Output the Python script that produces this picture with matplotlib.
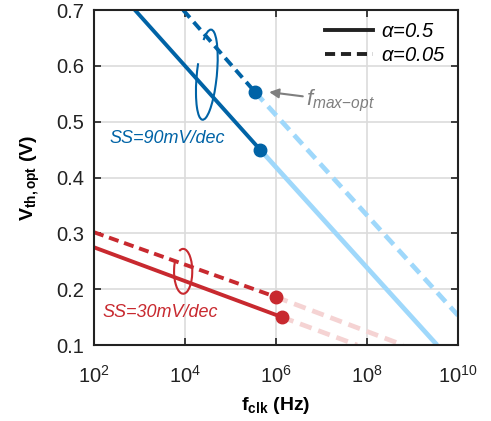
import matplotlib
matplotlib.use("Agg")
import matplotlib.pyplot as plt
from matplotlib.patches import Arc
from matplotlib.lines import Line2D

# f_clk endpoints (Hz) and V_th,opt (V) of each segment
ss90_solid_f = [10**2.90, 10**5.65]
ss90_solid_v = [0.70, 0.45]
ss90_solid_ext_f = [10**5.65, 10**9.54]
ss90_solid_ext_v = [0.45, 0.10]
ss90_dash_f = [10**3.96, 10**5.54]
ss90_dash_v = [0.70, 0.553]
ss90_dash_ext_f = [10**5.54, 10**10.0]
ss90_dash_ext_v = [0.553, 0.153]

ss30_solid_f = [10**2.0, 10**6.13]
ss30_solid_v = [0.275, 0.150]
ss30_solid_ext_f = [10**6.13, 10**7.78]
ss30_solid_ext_v = [0.150, 0.100]
ss30_dash_f = [10**2.0, 10**6.0]
ss30_dash_v = [0.302, 0.186]
ss30_dash_ext_f = [10**6.0, 10**8.79]
ss30_dash_ext_v = [0.186, 0.100]

xticks = [1e2, 1e4, 1e6, 1e8, 1e10]
yticks = [0.1, 0.2, 0.3, 0.4, 0.5, 0.6, 0.7]

blue = "#0063A6"
light_blue = "#9FD8FB"
red = "#C8292F"
light_red = "#F5D3D3"

plt.rcParams["font.family"] = ["Liberation Sans", "DejaVu Sans"]
plt.rcParams["mathtext.fontset"] = "custom"
plt.rcParams["mathtext.rm"] = "Liberation Sans"
plt.rcParams["mathtext.it"] = "Liberation Sans:italic"
plt.rcParams["mathtext.bf"] = "Liberation Sans:bold"

fig = plt.figure(figsize=(4.91, 4.21), dpi=100)
ax = fig.add_axes([0.1914, 0.1805, 0.7414, 0.7957])

dash = (0, (2.6, 1.5))
lw = 2.8
lw_light = 3.4

# light extensions first
ax.plot(ss90_solid_ext_f, ss90_solid_ext_v, color=light_blue, lw=lw_light, solid_capstyle="butt")
ax.plot(ss90_dash_ext_f, ss90_dash_ext_v, color=light_blue, lw=lw_light, linestyle=dash)
ax.plot(ss30_solid_ext_f, ss30_solid_ext_v, color=light_red, lw=lw_light, linestyle=dash)
ax.plot(ss30_dash_ext_f, ss30_dash_ext_v, color=light_red, lw=lw_light, linestyle=dash)

# main segments
ax.plot(ss90_solid_f, ss90_solid_v, color=blue, lw=lw)
ax.plot(ss90_dash_f, ss90_dash_v, color=blue, lw=lw, linestyle=dash)
ax.plot(ss30_solid_f, ss30_solid_v, color=red, lw=lw)
ax.plot(ss30_dash_f, ss30_dash_v, color=red, lw=lw, linestyle=dash)

# f_max-opt markers
ax.plot([ss90_solid_f[-1], ss90_dash_f[-1]], [ss90_solid_v[-1], ss90_dash_v[-1]],
        "o", color=blue, ms=9, zorder=5)
ax.plot([ss30_solid_f[-1], ss30_dash_f[-1]], [ss30_solid_v[-1], ss30_dash_v[-1]],
        "o", color=red, ms=9, zorder=5)

# ellipses grouping alpha pairs
ax.add_patch(Arc((0.310, 0.807), 0.055, 0.27, angle=-5, theta1=130, theta2=460,
                 transform=ax.transAxes, color=blue, lw=1.5))
ax.add_patch(Arc((0.245, 0.220), 0.05, 0.134, angle=0, theta1=130, theta2=460,
                 transform=ax.transAxes, color=red, lw=1.5))

ax.text(0.043, 0.617, "SS=90mV/dec", transform=ax.transAxes, color=blue,
        fontsize=13, style="italic", va="center")
ax.text(0.023, 0.098, "SS=30mV/dec", transform=ax.transAxes, color=red,
        fontsize=13, style="italic", va="center")

ax.annotate(r"$f_{max{-}opt}$", xy=(10**5.85, 0.553), xytext=(10**6.65, 0.537),
            color="#7F7F7F", fontsize=16, va="center",
            arrowprops=dict(arrowstyle="-|>", color="#7F7F7F", lw=1.5,
                            mutation_scale=14, shrinkA=0, shrinkB=0))

handles = [Line2D([], [], color="#222222", lw=lw),
           Line2D([], [], color="#222222", lw=lw, linestyle=dash)]
ax.legend(handles, [r"$\alpha$=0.5", r"$\alpha$=0.05"], loc="upper right",
          frameon=False, handlelength=2.4, handletextpad=0.4,
          labelspacing=0.25, borderaxespad=0.3, borderpad=0.3,
          prop=dict(style="italic", size=14.5))

ax.set_xscale("log")
ax.set_xlim(1e2, 1e10)
ax.set_ylim(0.1, 0.7)
ax.set_xticks(xticks)
ax.set_yticks(yticks)
ax.minorticks_off()
ax.grid(True, color="#DCDCDC", lw=1.2)
ax.set_axisbelow(True)
ax.tick_params(direction="in", top=True, right=True, length=5, width=1.2,
               labelsize=14.5, colors="#222222")
ax.tick_params(axis="x", pad=14)
ax.tick_params(axis="y", pad=7)
for s in ax.spines.values():
    s.set_linewidth(1.5)
    s.set_color("#222222")

ax.set_xlabel(r"f$_{\mathbf{clk}}$ (Hz)", fontsize=14, fontweight="bold", labelpad=6)
ax.set_ylabel(r"V$_{\mathbf{th,opt}}$ (V)", fontsize=14, fontweight="bold", labelpad=10)

fig.savefig("out.png", dpi=100)
